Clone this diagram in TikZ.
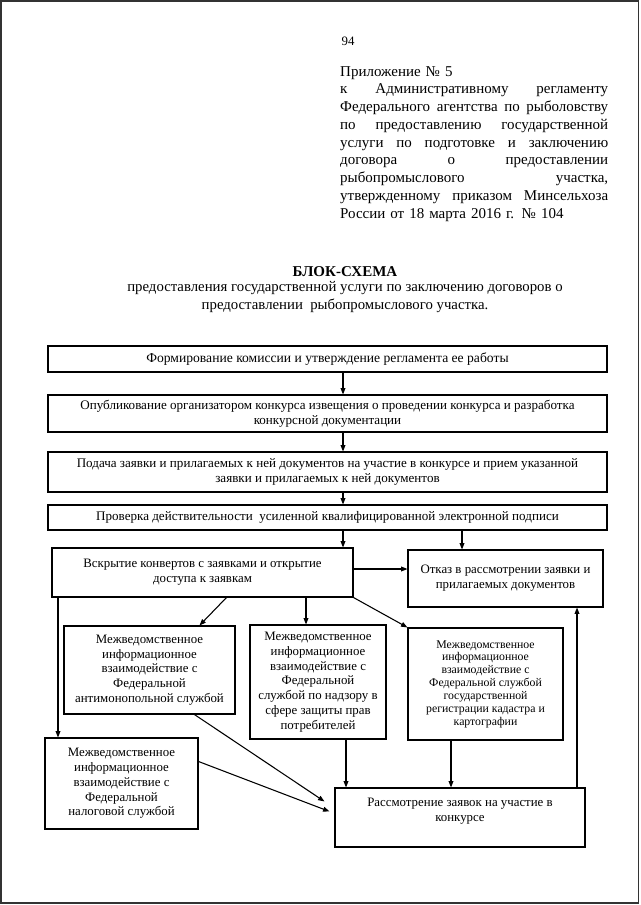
\documentclass[tikz,border=0pt]{standalone}
\usepackage{fontspec}
\setmainfont{Liberation Serif}
\usetikzlibrary{arrows.meta,calc}
\newdimen\pxu
\pxu=0.0328125cm
\newcommand{\jline}[1]{\makebox[268\pxu]{#1}}

\tikzset{
  block/.style={draw, line width=1pt, align=center, inner sep=2pt,
    font=\fontsize{12.2}{13.8}\selectfont},
  flow/.style={-{Triangle[length=6pt,width=4.5pt]}, line width=1pt},
}

\begin{document}
\begin{tikzpicture}[x=0.0328125cm, y=-0.0328125cm]
  \useasboundingbox (0,0) rectangle (640,905);
  % scan frame
  \draw[line width=1pt, black!80] (1,1) rectangle (638.5,903);

  % header
  \node (pnum) at (348,41) {\fontsize{12}{14}\selectfont 94};
  \node[anchor=north west, inner sep=0pt, text width=268*\pxu,
    font=\fontsize{14}{16.6}\selectfont] (appx) at (340,66) {%
    Приложение № 5\\
    \jline{к\hfill Административному\hfill регламенту}\\
    \jline{Федерального\hfill агентства\hfill по\hfill рыболовству}\\
    \jline{по\hfill предоставлению\hfill государственной}\\
    \jline{услуги\hfill по\hfill подготовке\hfill и\hfill заключению}\\
    \jline{договора\hfill о\hfill предоставлении}\\
    \jline{рыбопромыслового\hfill участка,}\\
    \jline{утвержденному\hfill приказом\hfill Минсельхоза}\\
    России от 18 марта 2016 г. № 104};

  % title
  \node[font=\fontsize{14}{16}\selectfont\bfseries] (title) at (345,272) {БЛОК-СХЕМА};
  \node[align=center, font=\fontsize{13.8}{16.5}\selectfont] (subtitle) at (345,297)
    {предоставления государственной услуги по заключению договоров о\\
     предоставлении\ \ рыбопромыслового участка.};

  % boxes
  \node[block, minimum width=559*\pxu, minimum height=26*\pxu,
    font=\fontsize{12.7}{14}\selectfont] (b1) at (327.5,359)
    {Формирование комиссии и утверждение регламента ее работы};
  \node[block, minimum width=559*\pxu, minimum height=37*\pxu] (b2) at (327.5,413.5)
    {Опубликование организатором конкурса извещения о проведении конкурса и разработка\\
     конкурсной документации};
  \node[block, minimum width=559*\pxu, minimum height=40*\pxu] (b3) at (327.5,472)
    {Подача заявки и прилагаемых к ней документов на участие в конкурсе и прием указанной\\
     заявки и прилагаемых к ней документов};
  \node[block, minimum width=559*\pxu, minimum height=25*\pxu] (b4) at (327.5,517.5)
    {Проверка действительности\ \ усиленной квалифицированной электронной подписи};
  \node[block, minimum width=301*\pxu, minimum height=49*\pxu,
    font=\fontsize{12}{13.8}\selectfont] (b5) at (202.5,572.5)
    {Вскрытие конвертов с заявками и открытие\\ доступа к заявкам};
  \node[block, minimum width=195*\pxu, minimum height=57*\pxu,
    font=\fontsize{12}{13.8}\selectfont] (b6) at (505.5,578.5)
    {Отказ в рассмотрении заявки и\\ прилагаемых документов};
  \node[block, minimum width=171*\pxu, minimum height=88*\pxu,
    font=\fontsize{12}{13.8}\selectfont] (b7) at (149.5,670)
    {Межведомственное\\ информационное\\ взаимодействие с\\ Федеральной\\
     антимонопольной службой};
  \node[block, minimum width=136*\pxu, minimum height=114*\pxu,
    font=\fontsize{12}{13.8}\selectfont] (b8) at (318,682)
    {Межведомственное\\ информационное\\ взаимодействие с\\ Федеральной\\
     службой по надзору в\\ сфере защиты прав\\ потребителей};
  \node[block, minimum width=155*\pxu, minimum height=112*\pxu,
    font=\fontsize{11}{12}\selectfont] (b9) at (485.5,684)
    {Межведомственное\\ информационное\\ взаимодействие с\\ Федеральной службой\\
     государственной\\ регистрации кадастра и\\ картографии};
  \node[block, minimum width=153*\pxu, minimum height=91*\pxu,
    font=\fontsize{12}{13.8}\selectfont] (b10) at (121.5,783.5)
    {Межведомственное\\ информационное\\ взаимодействие с\\ Федеральной\\
     налоговой службой};
  \node[block, minimum width=250*\pxu, minimum height=59*\pxu,
    font=\fontsize{12}{13.8}\selectfont] (b11) at (460,817.5)
    {Рассмотрение заявок на участие в\\ конкурсе\\ \mbox{}};

  % connectors
  \coordinate (cx) at (343,0);
  \draw[flow] (b1.south -| cx) -- (b2.north -| cx);
  \draw[flow] (b2.south -| cx) -- (b3.north -| cx);
  \draw[flow] (b3.south -| cx) -- (b4.north -| cx);
  \draw[flow] (b4.south -| cx) -- (b5.north -| cx);
  \coordinate (cr) at (462,0);
  \draw[flow] (b4.south -| cr) -- (b6.north -| cr);
  \coordinate (cy) at (0,569);
  \draw[flow] (b5.east |- cy) -- (b6.west |- cy);

  \coordinate (cl) at (58,0);
  \draw[flow] (b5.south -| cl) -- (b10.north -| cl);
  \draw[flow] ($(b5.south west)+(175,0)$) -- ($(b7.north west)+(136,0)$);
  \coordinate (cm) at (306,0);
  \draw[flow] (b5.south -| cm) -- (b8.north -| cm);
  \draw[flow] (b5.south east) -- (b9.north west);

  \draw[flow] ($(b7.south west)+(131,0)$) -- ($(b11.north west)+(-10,14)$);
  \draw[flow] ($(b10.east)+(0,-22)$) -- ($(b11.north west)+(-5,24)$);
  \coordinate (cd1) at (346,0);
  \draw[flow] (b8.south -| cd1) -- (b11.north -| cd1);
  \coordinate (cd2) at (451,0);
  \draw[flow] (b9.south -| cd2) -- (b11.north -| cd2);
  \coordinate (cu) at (577,0);
  \draw[flow] (b11.north -| cu) -- (b6.south -| cu);
\end{tikzpicture}
\end{document}
